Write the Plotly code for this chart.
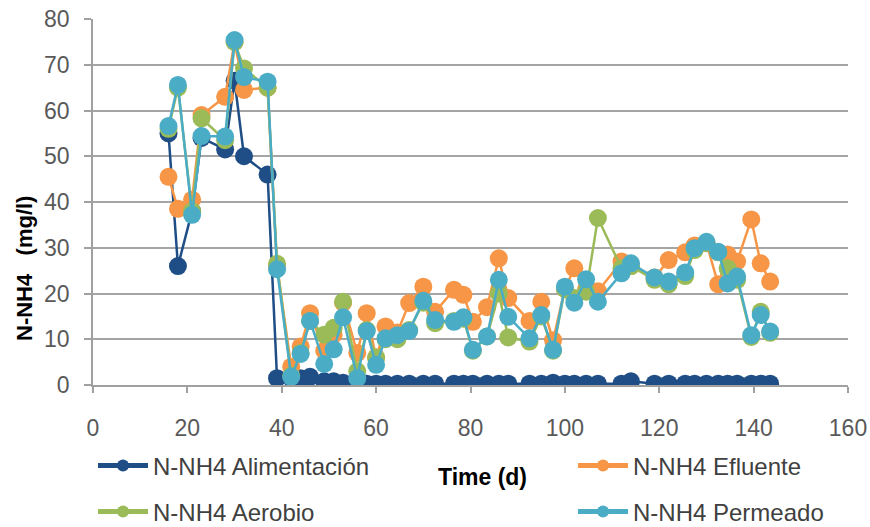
import plotly.graph_objects as go

# Sampling days (d)
days = [16, 18, 21, 23, 28, 30, 32, 37, 39, 42, 44, 46, 49, 51, 53, 56, 58, 60, 62,
        64.5, 67, 70, 72.5, 76.5, 78.5, 80.5, 83.5, 86, 88, 92.5, 95, 97.5, 100, 102,
        104.5, 107, 112, 114, 119, 122, 125.5, 127.5, 130, 132.5, 134.5, 136.5,
        139.5, 141.5, 143.5]

alimentacion = [55, 26, 38, 54, 51.5, 66.5, 50, 46, 1.5, 1.5, 1.5, 1.8, 0.8, 0.8, 0.5,
                0.5, 0.3, 0.3, 0.3, 0.3, 0.3, 0.3, 0.3, 0.3, 0.3, 0.3, 0.3, 0.3, 0.3,
                0.3, 0.3, 0.5, 0.3, 0.3, 0.3, 0.3, 0.3, 0.8, 0.3, 0.3, 0.3, 0.3, 0.3,
                0.3, 0.3, 0.3, 0.3, 0.3, 0.3]

efluente = [45.5, 38.5, 40.5, 59, 63, 75, 64.5, 65, 26, 4, 8.4, 15.7, 7.5, 11, 18,
            7, 15.7, 6, 12.8, 11.5, 17.9, 21.5, 16, 20.8, 19.7, 13.8, 17, 27.7, 19,
            14, 18.2, 9.8, 21, 25.5, 21, 20.5, 27, 26, 23.5, 27.3, 29, 30.5, 31,
            22, 28.5, 27, 36.2, 26.6, 22.6]

aerobio = [56, 65, 38, 58.3, 53.5, 75, 69.2, 65, 26.5, 2, 7, 14, 11, 12.5, 18.2,
           3, 12, 6, 10, 10, 12, 18, 13.5, 14, 14.5, 7.5, 10.6, 20, 10.4,
           9.5, 15, 7.5, 21, 19, 20.4, 36.5, 25.5, 26, 23, 22, 23.8, 29.5, 31,
           29, 25.5, 23, 10.5, 16, 11.4]

permeado = [56.6, 65.6, 37.2, 54.4, 54.3, 75.4, 67.3, 66.3, 25.3, 1.8, 6.8, 14, 4.6,
            7.8, 14.8, 1.5, 11.8, 4.4, 10.2, 10.9, 11.8, 18.4, 14.2, 13.8, 14.8, 7.7,
            10.6, 23, 14.9, 10.2, 15.3, 7.7, 21.5, 18, 23.1, 18.2, 24.4, 26.6, 23.5,
            22.6, 24.6, 29.9, 31.3, 29.1, 22.2, 23.7, 10.9, 15.3, 11.7]

names = ["N-NH4 Alimentación", "N-NH4 Efluente", "N-NH4 Aerobio", "N-NH4 Permeado"]
series = [alimentacion, efluente, aerobio, permeado]
colors = ["#1F4E86", "#F79646", "#9BBB59", "#4BACC6"]
legend_ids = ["legend", "legend2", "legend3", "legend4"]
# legend anchor positions in page pixels (left x, centre y)
legend_pos = [(95, 466), (575, 466), (95, 512), (575, 512)]

W, H = 870, 527
L, R, T, B = 93, 22, 19, 142

fig = go.Figure()
for name, vals, col, lg in zip(names, series, colors, legend_ids):
    fig.add_trace(go.Scatter(
        x=days, y=vals, name=name, mode="lines+markers",
        line=dict(color=col, width=2.5),
        marker=dict(color=col, size=18, symbol="circle"),
        legend=lg,
    ))

font_family = "Liberation Sans, Arial, sans-serif"
tick_font = dict(family=font_family, size=23, color="#595959")
leg_font = dict(family=font_family, size=24, color="#404040")

legend_layout = {}
for lg, (px, py) in zip(legend_ids, legend_pos):
    legend_layout[lg] = dict(
        orientation="v", xref="container", yref="container",
        x=(px - 2) / W, y=1 - py / H,
        xanchor="left", yanchor="middle", font=leg_font,
        bgcolor="rgba(0,0,0,0)", itemwidth=50, itemsizing="constant",
    )

fig.update_layout(
    width=W, height=H,
    margin=dict(l=L, r=R, t=T, b=B, pad=0, autoexpand=False),
    paper_bgcolor="white", plot_bgcolor="white",
    showlegend=True,
    **legend_layout,
    xaxis=dict(
        range=[0, 160], tickvals=[0, 20, 40, 60, 80, 100, 120, 140, 160],
        showgrid=False, zeroline=False,
        showline=True, linecolor="#A0A0A0", linewidth=1.5,
        ticks="outside", ticklen=6, tickcolor="#A0A0A0", tickwidth=1.5,
        tickfont=tick_font, ticklabelstandoff=16,
    ),
    yaxis=dict(
        range=[0, 80], tickvals=[0, 10, 20, 30, 40, 50, 60, 70, 80],
        showgrid=True, gridcolor="#A5A5A5", gridwidth=1.5,
        zeroline=False,
        showline=True, linecolor="#A0A0A0", linewidth=1.5,
        ticks="outside", ticklen=7, tickcolor="#A0A0A0", tickwidth=1.5,
        tickfont=tick_font, ticklabelstandoff=10,
    ),
    annotations=[
        dict(text="<b>Time (d)</b>", xref="paper", yref="paper",
             x=(482 - L) / (W - L - R), y=-(477 - (H - B)) / (H - T - B),
             xanchor="center", yanchor="middle", showarrow=False,
             font=dict(family=font_family, size=23, color="#000000")),
        dict(text="<b>N-NH4   (mg/l)</b>", xref="paper", yref="paper",
             x=-(L - 24) / (W - L - R), y=((H - B) - 269) / (H - T - B),
             xanchor="center", yanchor="middle", showarrow=False, textangle=-90,
             font=dict(family=font_family, size=22, color="#000000")),
    ],
)

fig.write_html("out.html")
